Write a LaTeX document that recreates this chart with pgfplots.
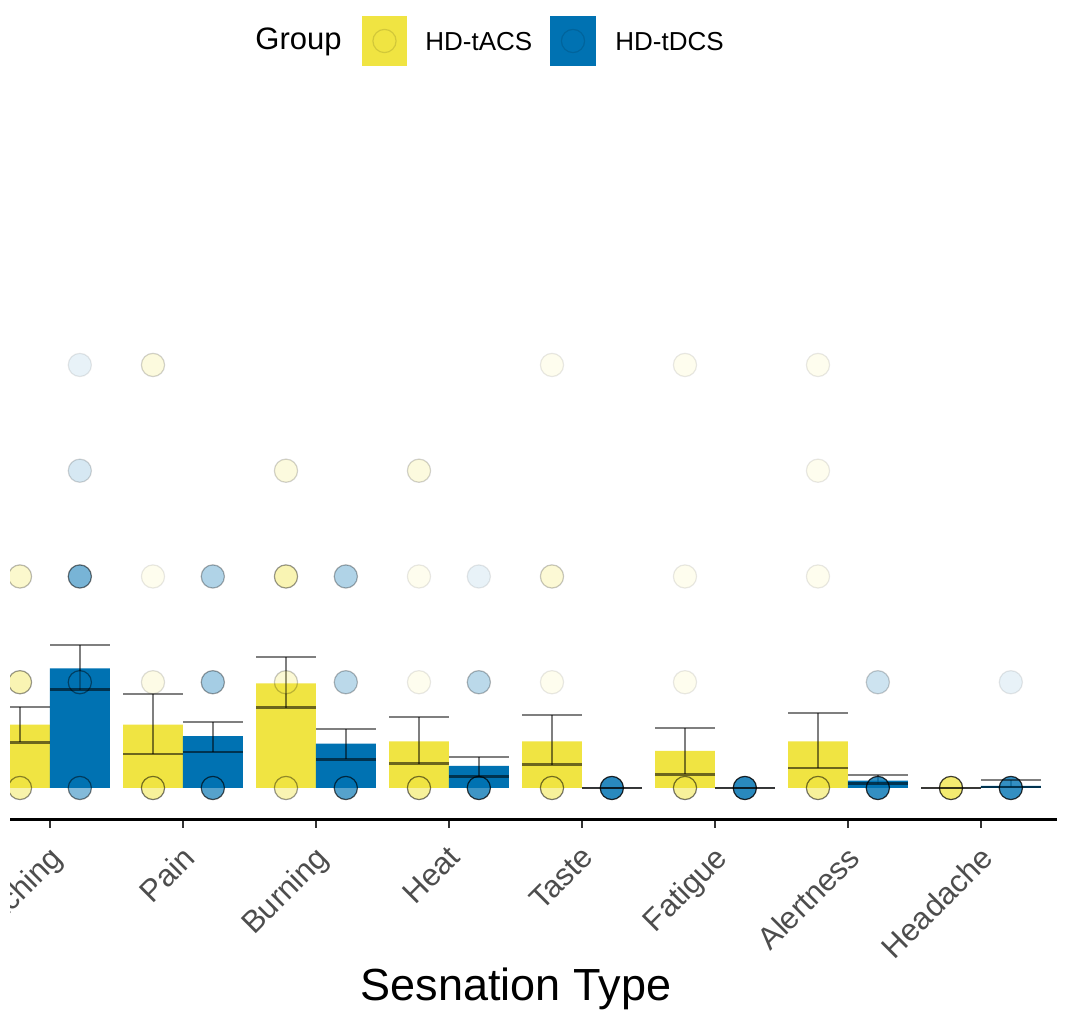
\documentclass[border=0pt]{standalone}
\usepackage{pgfplots}
\usepackage{pgfplotstable}
\pgfplotsset{compat=1.18}
\usepackage{fontspec}
\setmainfont{Liberation Sans}

\definecolor{tacs}{HTML}{F0E442}
\definecolor{tdcs}{HTML}{0072B2}
\definecolor{tickgray}{HTML}{4D4D4D}

% bars: x, bar height, middle line, top of error bar, error length
\pgfplotstableread{
x     h    m    t    e
0.775 0.60 0.43 0.77 0.34
1.775 0.60 0.32 0.89 0.57
2.775 0.99 0.76 1.24 0.48
3.775 0.44 0.23 0.67 0.44
4.775 0.44 0.22 0.69 0.47
5.775 0.35 0.13 0.57 0.44
6.775 0.44 0.19 0.71 0.52
7.775 0.00 0.00 0.00 0.00
}\tacsbars
\pgfplotstableread{
x     h    m    t    e
1.225 1.13 0.93 1.35 0.42
2.225 0.49 0.34 0.62 0.28
3.225 0.42 0.27 0.56 0.29
4.225 0.21 0.11 0.29 0.18
5.225 0.00 0.00 0.00 0.00
6.225 0.00 0.00 0.00 0.00
7.225 0.07 0.04 0.12 0.08
8.225 0.02 0.01 0.08 0.07
}\tdcsbars

% points: x, value, opacity of the overlapped points
\pgfplotstableread{
x     y a
0.775 0 0.50
0.775 1 0.45
0.775 2 0.30
1.775 0 0.60
1.775 1 0.15
1.775 2 0.10
1.775 4 0.20
2.775 0 0.45
2.775 1 0.25
2.775 2 0.45
2.775 3 0.20
3.775 0 0.60
3.775 1 0.10
3.775 2 0.10
3.775 3 0.20
4.775 0 0.60
4.775 1 0.10
4.775 2 0.25
4.775 4 0.10
5.775 0 0.60
5.775 1 0.10
5.775 2 0.10
5.775 4 0.10
6.775 0 0.60
6.775 2 0.10
6.775 3 0.10
6.775 4 0.10
7.775 0 0.85
}\tacspts
\pgfplotstableread{
x     y a
1.225 0 0.55
1.225 1 0.50
1.225 2 0.60
1.225 3 0.18
1.225 4 0.10
2.225 0 0.75
2.225 1 0.40
2.225 2 0.35
3.225 0 0.75
3.225 1 0.30
3.225 2 0.35
4.225 0 0.85
4.225 1 0.30
4.225 2 0.10
5.225 0 0.95
6.225 0 0.95
7.225 0 0.90
7.225 1 0.22
8.225 0 0.90
8.225 1 0.10
}\tdcspts

\pgfplotsset{
  dots/.style={scatter, only marks, mark=*, mark size=5.8pt,
    mark options={fill=#1, draw=black, line width=0.6pt},
    point meta=explicit, point meta min=0, point meta max=1,
    scatter/@pre marker code/.code={%
      \pgfmathsetmacro\op{\pgfplotspointmetatransformed/1000}%
      \pgfsetfillopacity{\op}\pgfsetstrokeopacity{\op}},
    scatter/@post marker code/.code={}},
  midline/.style={only marks, mark=-, mark size=15pt,
    mark options={line width=1.3pt, draw=black, opacity=0.55}},
  errline/.style={draw=none, mark=none, forget plot,
    error bars/.cd, y dir=plus, y explicit, error mark=none,
    error bar style={line width=1pt, black, opacity=0.5}},
  caps/.style={only marks, mark=-, mark size=15pt,
    mark options={line width=1pt, draw=black, opacity=0.5}},
}

\begin{document}
\begin{tikzpicture}
\begin{scope}
\clip (5pt,10pt) rectangle (540pt,-520pt);
\begin{axis}[
  at={(5pt,-409.85pt)}, anchor=south west,
  scale only axis, width=523.5pt, height=349pt,
  xmin=0.7, xmax=8.572, ymin=-0.3, ymax=6.3,
  axis x line=bottom, axis y line=none,
  x axis line style={-, line width=1.3pt, black},
  xtick={1,...,8},
  xticklabels={Itching,Pain,Burning,Heat,Taste,Fatigue,Alertness,Headache},
  tick align=outside, major tick length=4pt,
  xtick style={line width=1pt, color=black!80},
  xticklabel style={xshift=-1pt, yshift=-8pt, rotate=45, anchor=north east,
    inner sep=0pt, font=\fontsize{15.5}{18}\selectfont, text=tickgray},
  ytick=\empty,
]
\addplot[ybar, bar width=0.45, bar shift=0pt, fill=tacs, draw=none] table[x=x, y=h] {\tacsbars};
\addplot[ybar, bar width=0.45, bar shift=0pt, fill=tdcs, draw=none] table[x=x, y=h] {\tdcsbars};
\addplot[dots=tacs] table[x=x, y=y, meta=a] {\tacspts};
\addplot[dots=tdcs] table[x=x, y=y, meta=a] {\tdcspts};
\addplot[errline] table[x=x, y=m, y error=e] {\tacsbars};
\addplot[errline] table[x=x, y=m, y error=e] {\tdcsbars};
\addplot[midline] table[x=x, y=m] {\tacsbars};
\addplot[midline] table[x=x, y=m] {\tdcsbars};
\addplot[caps] table[x=x, y=t] {\tacsbars};
\addplot[caps] table[x=x, y=t] {\tdcsbars};
\end{axis}
\end{scope}

% axis title
\node[anchor=base, inner sep=0pt, font=\fontsize{22.5}{26}\selectfont] at (258pt,-500pt) {Sesnation Type};

% legend
\node[anchor=center, inner sep=0pt, font=\fontsize{15.5}{18}\selectfont] at (149.25pt,-21pt) {Group};
\fill[tacs] (181pt,-8pt) rectangle (203.5pt,-33pt);
\draw[black, opacity=0.12, line width=0.6pt] (192.25pt,-20.5pt) circle (5.8pt);
\node[anchor=west, inner sep=0pt, font=\fontsize{13}{16}\selectfont] at (212.5pt,-21pt) {HD-tACS};
\fill[tdcs] (275pt,-8pt) rectangle (298pt,-33pt);
\draw[black, opacity=0.12, line width=0.6pt] (286.5pt,-20.5pt) circle (5.8pt);
\node[anchor=west, inner sep=0pt, font=\fontsize{13}{16}\selectfont] at (307.5pt,-21pt) {HD-tDCS};

\pgfresetboundingbox
\useasboundingbox (0pt,0pt) rectangle (533.5pt,-510.5pt);
\end{tikzpicture}
\end{document}
